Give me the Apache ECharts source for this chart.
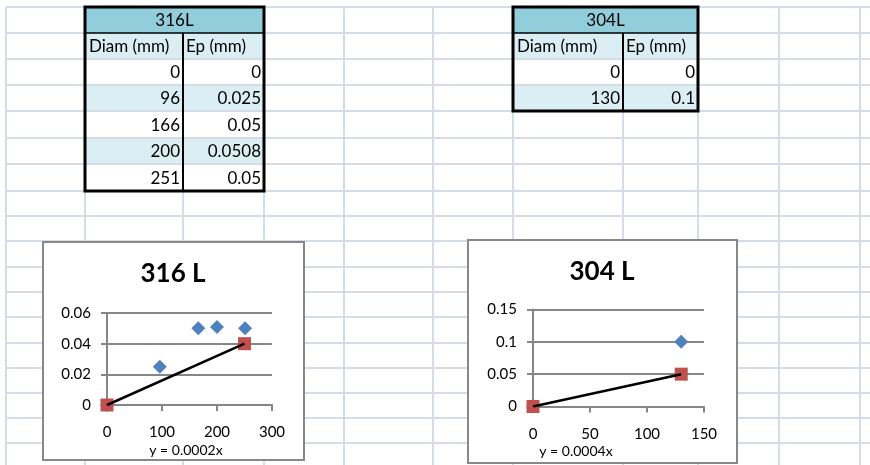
<!DOCTYPE html>
<html><head><meta charset="utf-8">
<script src="https://cdn.jsdelivr.net/npm/echarts@6/dist/echarts.min.js"></script>
<style>html,body{margin:0;padding:0;background:#fff}#c{width:870px;height:465px}</style>
</head><body><div id="c"></div>
<script>
// ---------------- data ----------------
const colHeaders = ['Diam (mm)', 'Ep (mm)'];
const t316Name = '316L';
const t316Diam = [0, 96, 166, 200, 251];
const t316Ep = [0, 0.025, 0.05, 0.0508, 0.05];
const t316Fit = [[0, 0], [250, 0.04]];
const t304Name = '304L';
const t304Diam = [0, 130];
const t304Ep = [0, 0.1];
const t304Fit = [[0, 0], [130, 0.05]];
const chartTitles = ['316 L', '304 L'];
const equations = ['y = 0.0002x', 'y = 0.0004x'];
const xTicks316 = [0, 100, 200, 300];
const yTicks316 = [0, 0.02, 0.04, 0.06];
const xTicks304 = [0, 50, 100, 150];
const yTicks304 = [0, 0.05, 0.1, 0.15];

// ---------------- layout ----------------
const colX = [6, 85, 183, 264, 344, 433, 513, 623, 698, 779, 860];
const rowY = [7, 33, 59, 85, 111, 138, 164, 191, 216, 241, 267, 292, 317, 343, 368, 393, 418, 443];
const GRID_C = '#D5DCE8';
const HEAD_C = '#92CDDC';
const LIGHT_C = '#DAEEF3';
const FONT = 'Lato, "Liberation Sans", sans-serif';
const TFS = 17;

const g = [];
// spreadsheet gridlines
colX.forEach(x => g.push({type: 'line', z: -30, silent: true,
  shape: {x1: x, y1: 7, x2: x, y2: 465}, style: {stroke: GRID_C, lineWidth: 2}}));
rowY.forEach(y => g.push({type: 'line', z: -30, silent: true,
  shape: {x1: 6, y1: y, x2: 870, y2: y}, style: {stroke: GRID_C, lineWidth: 2}}));

function txt(s, x, y, align, size, bold) {
  return {type: 'text', z: 5, silent: true,
    style: {text: s, x: x, y: y, align: align, textAlign: align, verticalAlign: 'middle',
      textVerticalAlign: 'middle', fill: '#000',
      font: (bold ? 'bold ' : '') + size + 'px ' + FONT}};
}

function table(x0, x1, x2, name, diam, ep) {
  const nRows = 2 + diam.length;
  const yTop = rowY[0], yBot = rowY[nRows];
  g.push({type: 'rect', z: -5, shape: {x: x0, y: rowY[0], width: x2 - x0, height: rowY[1] - rowY[0]}, style: {fill: HEAD_C}});
  g.push({type: 'rect', z: -5, shape: {x: x0, y: rowY[1], width: x2 - x0, height: rowY[2] - rowY[1]}, style: {fill: LIGHT_C}});
  diam.forEach((d, i) => {
    const r = 2 + i;
    g.push({type: 'rect', z: -5, shape: {x: x0, y: rowY[r], width: x2 - x0, height: rowY[r + 1] - rowY[r]},
      style: {fill: i % 2 === 1 ? LIGHT_C : '#fff'}});
  });
  for (let r = 2; r < nRows; r++) {
    g.push({type: 'line', z: -4, shape: {x1: x0, y1: rowY[r], x2: x2, y2: rowY[r]}, style: {stroke: GRID_C, lineWidth: 2}});
  }
  g.push({type: 'line', z: -3, shape: {x1: x0, y1: rowY[1], x2: x2, y2: rowY[1]}, style: {stroke: '#000', lineWidth: 1.5}});
  g.push({type: 'line', z: -2, shape: {x1: x1, y1: rowY[1], x2: x1, y2: yBot}, style: {stroke: '#000', lineWidth: 2}});
  g.push({type: 'rect', z: -1, shape: {x: x0, y: yTop, width: x2 - x0, height: yBot - yTop},
    style: {fill: 'none', stroke: '#000', lineWidth: 3}});
  const mid = r => (rowY[r] + rowY[r + 1]) / 2 + 1;
  g.push(txt(name, (x0 + x2) / 2, mid(0), 'center', TFS));
  g.push(txt(colHeaders[0], x0 + 4, mid(1), 'left', TFS));
  g.push(txt(colHeaders[1], x1 + 3, mid(1), 'left', TFS));
  diam.forEach((d, i) => {
    g.push(txt(String(d), x1 - 3, mid(2 + i), 'right', TFS));
    g.push(txt(String(ep[i]), x2 - 3, mid(2 + i), 'right', TFS));
  });
}
table(colX[1], colX[2], colX[3], t316Name, t316Diam, t316Ep);
table(colX[6], colX[7], colX[8], t304Name, t304Diam, t304Ep);

// chart frames
g.push({type: 'rect', z: -10, shape: {x: 43, y: 242, width: 261, height: 218}, style: {fill: '#fff', stroke: '#888', lineWidth: 2}});
g.push({type: 'rect', z: -10, shape: {x: 468, y: 240, width: 269, height: 223}, style: {fill: '#fff', stroke: '#888', lineWidth: 2}});
// trendline equations
g.push(txt(equations[0], 186, 450, 'center', 14));
g.push(txt(equations[1], 576, 451, 'center', 14));

const AX = '#868686';
function xAx(idx, ticks, margin) {
  return {gridIndex: idx, type: 'value', min: ticks[0], max: ticks[ticks.length - 1], interval: ticks[1] - ticks[0],
    axisLine: {show: true, onZero: false, lineStyle: {color: AX, width: 2}},
    axisTick: {show: true, inside: false, length: 6, lineStyle: {color: AX, width: 2}},
    axisLabel: {margin: margin, color: '#000', fontSize: 15, fontFamily: FONT},
    splitLine: {show: false}};
}
function yAx(idx, ticks, margin) {
  return {gridIndex: idx, type: 'value', min: ticks[0], max: ticks[ticks.length - 1], interval: ticks[1] - ticks[0],
    axisLine: {show: true, lineStyle: {color: AX, width: 2}},
    axisTick: {show: true, inside: false, length: 6, lineStyle: {color: AX, width: 2}},
    axisLabel: {margin: margin, color: '#000', fontSize: 15, fontFamily: FONT},
    splitLine: {show: true, lineStyle: {color: AX, width: 2}}};
}
function seriesFor(idx, diam, ep, fit) {
  return [
    {type: 'scatter', xAxisIndex: idx, yAxisIndex: idx, data: diam.map((d, i) => [d, ep[i]]),
      symbol: 'diamond', symbolSize: 14, itemStyle: {color: '#4F81BD', opacity: 1}, z: 3},
    {type: 'scatter', xAxisIndex: idx, yAxisIndex: idx, data: fit,
      symbol: 'rect', symbolSize: 13, itemStyle: {color: '#C0504D', opacity: 1}, z: 4},
    {type: 'line', xAxisIndex: idx, yAxisIndex: idx, data: fit, symbol: 'none', showSymbol: false,
      lineStyle: {color: '#000', width: 2.5}, z: 5}
  ];
}

const chart = echarts.init(document.getElementById('c'), null, {renderer: 'canvas'});
chart.setOption({
  animation: false,
  backgroundColor: '#fff',
  title: [
    {text: chartTitles[0], left: 173, top: 261, padding: 0, textAlign: 'center',
      textStyle: {fontSize: 26, fontWeight: 'bold', fontFamily: FONT, color: '#000'}},
    {text: chartTitles[1], left: 602, top: 259, padding: 0, textAlign: 'center',
      textStyle: {fontSize: 26, fontWeight: 'bold', fontFamily: FONT, color: '#000'}}
  ],
  grid: [
    {left: 107, top: 313, width: 165, height: 92},
    {left: 533, top: 309.5, width: 171, height: 97}
  ],
  xAxis: [xAx(0, xTicks316, 20), xAx(1, xTicks304, 20)],
  yAxis: [yAx(0, yTicks316, 16), yAx(1, yTicks304, 16)],
  series: [].concat(seriesFor(0, t316Diam, t316Ep, t316Fit), seriesFor(1, t304Diam, t304Ep, t304Fit)),
  graphic: {elements: g}
});
</script>
</body></html>
